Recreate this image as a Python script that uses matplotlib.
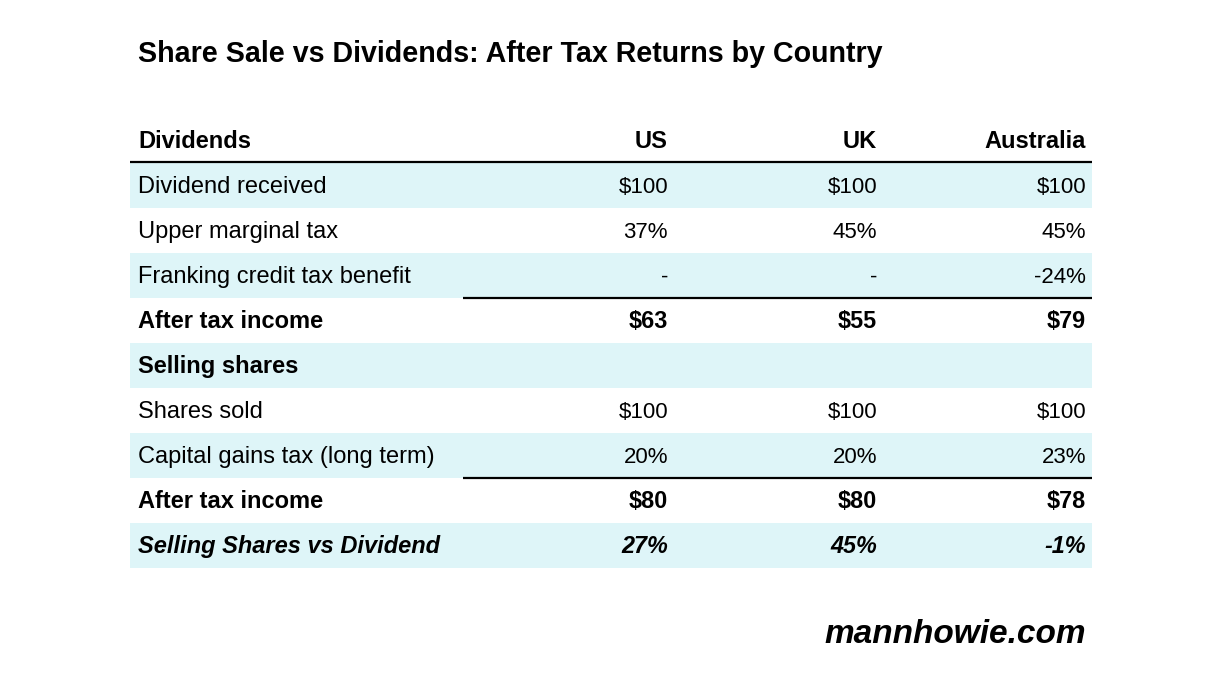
import matplotlib
matplotlib.use("Agg")
import matplotlib.pyplot as plt

plt.rcParams["font.family"] = ["Liberation Sans", "DejaVu Sans"]

TITLE = "Share Sale vs Dividends: After Tax Returns by Country"
HEADER = ["Dividends", "US", "UK", "Australia"]

row_labels = [
    "Dividend received",
    "Upper marginal tax",
    "Franking credit tax benefit",
    "After tax income",
    "Selling shares",
    "Shares sold",
    "Capital gains tax (long term)",
    "After tax income",
    "Selling Shares vs Dividend",
]
us = ["$100", "37%", "-", "$63", "", "$100", "20%", "$80", "27%"]
uk = ["$100", "45%", "-", "$55", "", "$100", "20%", "$80", "45%"]
australia = ["$100", "45%", "-24%", "$79", "", "$100", "23%", "$78", "-1%"]

# style per row: 0 normal, 1 bold, 2 bold italic
row_style = [0, 0, 0, 1, 1, 0, 0, 1, 2]
# rows with a rule under them (subtotal lines)
rule_after = [2, 6]

BAND = "#def5f8"
LABEL_FS = 17
VALUE_FS = 16
BOLD_VALUE_FS = 16.8

fig = plt.figure(figsize=(12.18, 6.84), dpi=100)
ax = fig.add_axes([0, 0, 1, 1])
ax.set_xlim(0, 1218)
ax.set_ylim(684, 0)
ax.axis("off")

left, right = 130, 1092
label_x = 138
col_x = [668, 877, 1086]
row_h = 45
y0 = 185

ax.text(label_x, 62, TITLE, fontsize=20.6, fontweight="bold", va="baseline", ha="left")

# header
ax.text(label_x, 148, HEADER[0], fontsize=LABEL_FS, fontweight="bold", va="baseline", ha="left")
for x, h in zip(col_x, HEADER[1:]):
    ax.text(x, 148, h, fontsize=LABEL_FS, fontweight="bold", va="baseline", ha="right")
ax.plot([left, right], [162, 162], color="black", lw=1.6, solid_capstyle="butt")

for i, lab in enumerate(row_labels):
    yc = y0 + i * row_h
    if i % 2 == 0:
        ax.fill_between([left, right], yc - row_h / 2, yc + row_h / 2, color=BAND, lw=0)
    st = row_style[i]
    kw = dict(va="baseline")
    if st >= 1:
        kw["fontweight"] = "bold"
    if st == 2:
        kw["fontstyle"] = "italic"
    ax.text(label_x, yc + 8, lab, ha="left", fontsize=LABEL_FS, **kw)
    vfs = BOLD_VALUE_FS if st >= 1 else VALUE_FS
    for x, vals in zip(col_x, [us, uk, australia]):
        ax.text(x, yc + 8, vals[i], ha="right", fontsize=vfs, **kw)
    if i in rule_after:
        ax.plot([463, right], [yc + row_h / 2, yc + row_h / 2], color="black", lw=1.6,
                solid_capstyle="butt")

ax.text(1086, 643, "mannhowie.com", fontsize=24, fontweight="bold", fontstyle="italic",
        va="baseline", ha="right")

fig.savefig("out.png", dpi=100)
